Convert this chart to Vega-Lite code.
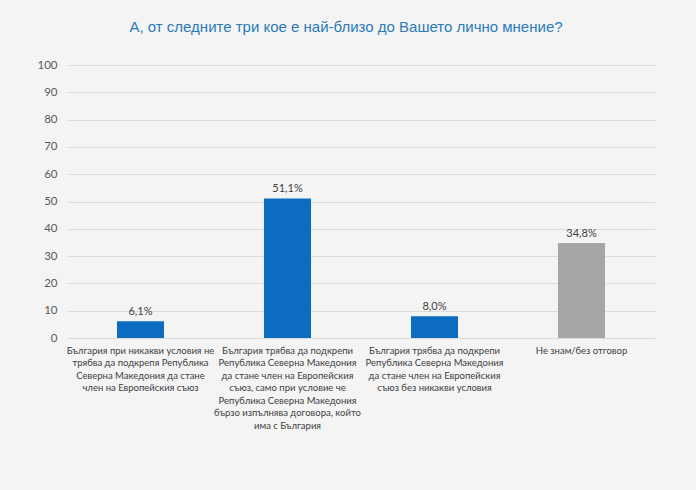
{
  "$schema": "https://vega.github.io/schema/vega-lite/v6.json",
  "width": 588,
  "height": 273,
  "autosize": {"type": "none"},
  "padding": {"left": 67, "top": 65, "right": 41, "bottom": 152},
  "background": "#f4f4f4",
  "title": {
    "text": "А, от следните три кое е най-близо до Вашето лично мнение?",
    "font": "Liberation Sans, Arial, sans-serif",
    "fontSize": 15,
    "fontWeight": "normal",
    "color": "#2b7bb9",
    "anchor": "middle",
    "dx": -15,
    "offset": 24
  },
  "data": {
    "values": [
      {"cat": "България при никакви условия не|трябва да подкрепя Република|Северна Македония да стане|член на Европейския съюз", "value": 6.1, "group": "a"},
      {"cat": "България трябва да подкрепи|Република Северна Македония|да стане член на Европейския|съюз, само при условие че|Република Северна Македония|бързо изпълнява договора, който|има с България", "value": 51.1, "group": "a"},
      {"cat": "България трябва да подкрепи|Република Северна Македония|да стане член на Европейския|съюз без никакви условия", "value": 8.0, "group": "a"},
      {"cat": "Не знам/без отговор", "value": 34.8, "group": "b"}
    ]
  },
  "transform": [
    {"calculate": "replace(format(datum.value, '.1f'), '.', ',') + '%'", "as": "lbl"}
  ],
  "encoding": {
    "x": {
      "field": "cat",
      "type": "nominal",
      "sort": null,
      "scale": {"paddingInner": 0.68, "paddingOuter": 0.34},
      "axis": {
        "title": null,
        "labelAngle": 0,
        "labelExpr": "split(datum.label, '|')",
        "labelFont": "Lato, Open Sans, sans-serif",
        "labelFontSize": 9.5,
        "labelColor": "#404040",
        "labelLineHeight": 12.5,
        "labelLimit": 300,
        "labelPadding": 7,
        "ticks": false,
        "domainColor": "#d9d9d9",
        "labelBaseline": "top"
      }
    },
    "y": {
      "field": "value",
      "type": "quantitative",
      "scale": {"domain": [0, 100]},
      "axis": {
        "title": null,
        "values": [0, 10, 20, 30, 40, 50, 60, 70, 80, 90, 100],
        "labelFont": "Lato, Open Sans, sans-serif",
        "labelFontSize": 11.5,
        "labelColor": "#595959",
        "labelPadding": 10,
        "ticks": false,
        "domain": false,
        "gridColor": "#dcdcdc"
      }
    }
  },
  "layer": [
    {
      "mark": {"type": "bar"},
      "encoding": {
        "color": {
          "field": "group",
          "type": "nominal",
          "scale": {"domain": ["a", "b"], "range": ["#0b6cc0", "#a6a6a6"]},
          "legend": null
        }
      }
    },
    {
      "mark": {"type": "text", "dy": -9, "font": "Lato, Open Sans, sans-serif", "fontSize": 11, "color": "#404040"},
      "encoding": {"text": {"field": "lbl"}}
    }
  ],
  "config": {"view": {"stroke": null}}
}
